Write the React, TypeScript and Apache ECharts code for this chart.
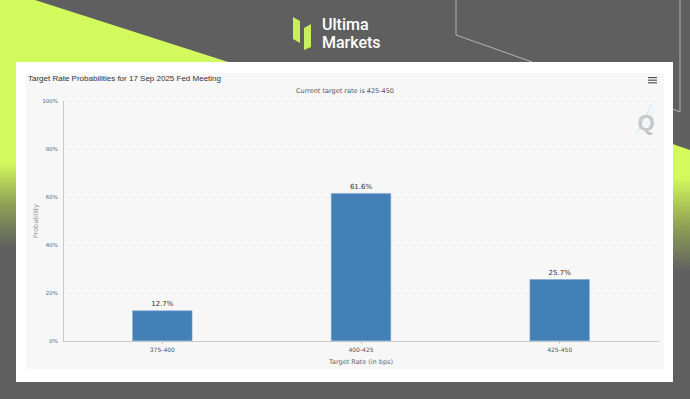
import React, { useEffect, useRef } from "react";
import * as echarts from "echarts";

const categories = ["375-400", "400-425", "425-450"];
const probabilities = [12.7, 61.6, 25.7];
const yTicks = [0, 20, 40, 60, 80, 100];

const chartTitle = "Target Rate Probabilities for 17 Sep 2025 Fed Meeting";
const chartSubtitle = "Current target rate is 425-450";

export default function App() {
  const ref = useRef<HTMLDivElement>(null);
  useEffect(() => {
    if (!ref.current) return;
    const chart = echarts.init(ref.current, null, { renderer: "svg" });
    const lime = "#d3fa5c";
    const gray = "#5f5f5f";
    const option: any = {
      animation: false,
      backgroundColor: gray,
      title: [
        {
          text: chartTitle,
          left: 28,
          top: 74,
          padding: 0,
          textStyle: { fontFamily: "Liberation Sans", fontSize: 8, fontWeight: "normal", color: "#333" },
        },
        {
          text: chartSubtitle,
          left: "center",
          top: 87,
          padding: 0,
          textStyle: { fontFamily: "DejaVu Sans", fontSize: 6.5, fontWeight: "normal", color: "#555" },
        },
      ],
      graphic: [
        {
          type: "polygon",
          z: -10,
          shape: { points: [[0, 0], [35, 0], [250, 69], [250, 260], [0, 260]] },
          style: {
            fill: new echarts.graphic.LinearGradient(0, 0, 0, 260, [
              { offset: 0, color: lime },
              { offset: 162 / 260, color: lime },
              { offset: 205 / 260, color: "#8f9f55" },
              { offset: 248 / 260, color: gray },
              { offset: 1, color: gray },
            ], true),
          },
        },
        {
          type: "polygon",
          z: -10,
          shape: { points: [[560, 105], [690, 150], [690, 290], [560, 290]] },
          style: {
            fill: new echarts.graphic.LinearGradient(0, 105, 0, 290, [
              { offset: 0, color: lime },
              { offset: 72 / 185, color: lime },
              { offset: 122 / 185, color: "#8f9f55" },
              { offset: 167 / 185, color: gray },
              { offset: 1, color: gray },
            ], true),
          },
        },
        {
          type: "polyline",
          z: -9,
          shape: { points: [[456, 0], [456, 35], [535, 63]] },
          style: { stroke: "#b5b5b5", lineWidth: 1, fill: null },
        },
        {
          type: "polyline",
          z: -9,
          shape: { points: [[680, 0], [680, 112], [670, 108]] },
          style: { stroke: "#b5b5b5", lineWidth: 1, fill: null },
        },
        // logo
        {
          type: "polygon",
          z: -8,
          shape: { points: [[293, 17], [300, 21], [300, 43], [293, 39]] },
          style: { fill: "#c9ef5a" },
        },
        {
          type: "polygon",
          z: -8,
          shape: { points: [[304, 28], [311, 24], [311, 47], [304, 50]] },
          style: { fill: "#c9ef5a" },
        },
        {
          type: "text",
          z: -8,
          x: 322,
          y: 24.8,
          style: { text: "Ultima", fill: "#ffffff", font: "500 16px Roboto", textVerticalAlign: "middle" },
        },
        {
          type: "text",
          z: -8,
          x: 322,
          y: 42.6,
          style: { text: "Markets", fill: "#ffffff", font: "500 16px Roboto", textVerticalAlign: "middle" },
        },
        // card
        {
          type: "rect",
          z: -7,
          shape: { x: 16, y: 62, width: 657, height: 320 },
          style: { fill: "#ffffff" },
        },
        {
          type: "rect",
          z: -6,
          shape: { x: 26, y: 73, width: 638, height: 296 },
          style: { fill: "#f7f7f7" },
        },
        // hamburger
        { type: "rect", z: 5, shape: { x: 648, y: 77, width: 9, height: 1.2 }, style: { fill: "#555" } },
        { type: "rect", z: 5, shape: { x: 648, y: 79.6, width: 9, height: 1.2 }, style: { fill: "#555" } },
        { type: "rect", z: 5, shape: { x: 648, y: 82.2, width: 9, height: 1.2 }, style: { fill: "#555" } },
        // watermark
        {
          type: "line",
          z: -5,
          shape: { x1: 637, y1: 133, x2: 652, y2: 104 },
          style: { stroke: "#d3ecf8", lineWidth: 1.5 },
        },
        {
          type: "line",
          z: -5,
          shape: { x1: 641, y1: 135, x2: 655, y2: 108 },
          style: { stroke: "#e2f2fa", lineWidth: 1 },
        },
        {
          type: "text",
          z: -4,
          x: 646,
          y: 122,
          style: {
            text: "Q",
            fill: "#c6c6c6",
            font: "bold 22px 'Liberation Sans'",
            textAlign: "center",
            textVerticalAlign: "middle",
          },
        },
      ],
      grid: { left: 63, right: 31, top: 101, bottom: 58, containLabel: false },
      xAxis: {
        type: "category",
        data: categories,
        axisLine: { lineStyle: { color: "#c8c8c8" } },
        axisTick: { show: true, alignWithLabel: true, length: 3, lineStyle: { color: "#c8c8c8" } },
        axisLabel: { fontFamily: "DejaVu Sans", fontSize: 6, color: "#555", margin: 5 },
        name: "Target Rate (in bps)",
        nameLocation: "middle",
        nameGap: 17,
        nameTextStyle: { fontFamily: "DejaVu Sans", fontSize: 6.5, color: "#666" },
      },
      yAxis: {
        type: "value",
        min: yTicks[0],
        max: yTicks[yTicks.length - 1],
        interval: 20,
        axisLine: { show: true, lineStyle: { color: "#c8c8c8" } },
        axisTick: { show: false },
        axisLabel: { formatter: "{value}%", fontFamily: "DejaVu Sans", fontSize: 5.5, color: "#666", margin: 5 },
        splitLine: { lineStyle: { color: "#dcdcdc", type: [1, 3] } },
        name: "Probability",
        nameLocation: "middle",
        nameGap: 24,
        nameMoveOverlap: false,
        nameRotate: 90,
        nameTextStyle: { fontFamily: "DejaVu Sans", fontSize: 6.5, color: "#999" },
      },
      series: [
        {
          type: "bar",
          data: probabilities,
          barWidth: 60,
          itemStyle: { color: "#4380b8", borderColor: "#7aa6d0", borderWidth: 0.5 },
          label: {
            show: true,
            position: "top",
            distance: 3,
            formatter: "{c}%",
            fontFamily: "DejaVu Sans",
            fontSize: 7,
            color: "#333",
          },
        },
      ],
    };
    chart.setOption(option);
    return () => chart.dispose();
  }, []);
  return (
    <div
      ref={ref}
      style={{ position: "fixed", left: 0, top: 0, width: 690, height: 399 }}
    />
  );
}
